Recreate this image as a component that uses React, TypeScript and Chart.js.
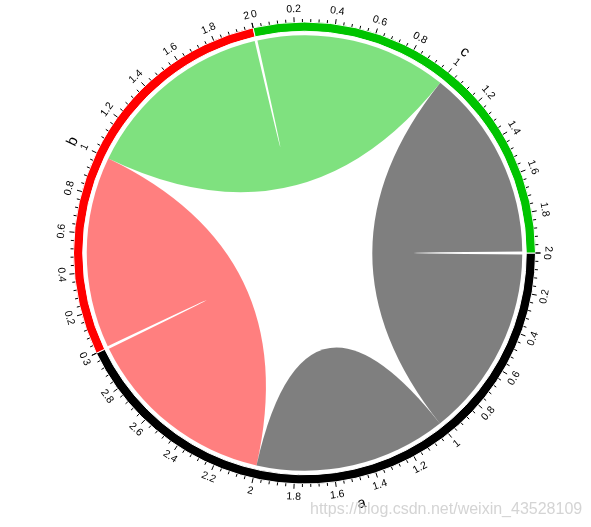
import React, { useEffect, useRef } from "react";
import { Chart, registerables } from "chart.js";

Chart.register(...registerables);

// Segments of the chord diagram
const segmentNames = ["a", "b", "c"];
const segmentSizes = [3, 2, 2];
const segmentColors = ["#000000", "#ff0000", "#00c400"];

// Links (ribbons): source segment + range, target segment + range
const linkSource = [2, 1, 0, 0];
const linkSourceFrom = [1, 1, 2, 1];
const linkSourceTo = [2, 2, 3, 2];
const linkTarget = [0, 2, 1, -1];
const linkTargetFrom = [0, 0, 0, 0];
const linkTargetTo = [1, 1, 1, 0];
const linkColors = [
  "rgba(0,0,0,0.5)",
  "rgba(0,196,0,0.5)",
  "rgba(255,0,0,0.5)",
  "rgba(0,0,0,0.5)",
];

const majorStep = 0.2;
const minorStep = 0.04;
const watermark = "https://blog.csdn.net/weixin_43528109";

const FONT = "'Liberation Sans', Arial, sans-serif";

const chordPlugin = {
  id: "chord",
  afterDatasetsDraw(chart: any) {
    const ctx: CanvasRenderingContext2D = chart.ctx;
    const meta = chart.getDatasetMeta(0);
    const arcs = meta.data as any[];
    if (!arcs.length) return;
    const cx = arcs[0].x;
    const cy = arcs[0].y;
    const outerR = arcs[0].outerRadius;
    const innerR = arcs[0].innerRadius;
    const ribbonR = innerR - 4;
    const pad = 0.0065;

    const angAt = (seg: number, p: number, usePad: boolean) => {
      const el = arcs[seg];
      const span = el.endAngle - el.startAngle;
      if (!usePad) return el.startAngle + (span * p) / segmentSizes[seg];
      return el.startAngle + pad + ((span - 2 * pad) * p) / segmentSizes[seg];
    };
    const pt = (a: number, r: number) => [cx + r * Math.cos(a), cy + r * Math.sin(a)];

    // ribbons
    for (let i = 0; i < linkSource.length; i++) {
      const s = linkSource[i];
      const a1 = angAt(s, linkSourceFrom[i], true);
      const a2 = angAt(s, linkSourceTo[i], true);
      ctx.save();
      ctx.beginPath();
      const p0 = pt(a1, ribbonR);
      ctx.moveTo(p0[0], p0[1]);
      ctx.arc(cx, cy, ribbonR, a1, a2);
      if (linkTarget[i] >= 0) {
        const t = linkTarget[i];
        const b1 = angAt(t, linkTargetFrom[i], true);
        const b2 = angAt(t, linkTargetTo[i], true);
        const q = pt(b1, ribbonR);
        ctx.quadraticCurveTo(cx, cy, q[0], q[1]);
        ctx.arc(cx, cy, ribbonR, b1, b2);
      }
      ctx.quadraticCurveTo(cx, cy, p0[0], p0[1]);
      ctx.closePath();
      ctx.fillStyle = linkColors[i];
      ctx.fill();
      ctx.restore();
    }

    // text helper
    const drawText = (
      text: string,
      a: number,
      r: number,
      orientAngle: number,
      align: CanvasTextAlign,
      font: string
    ) => {
      const upper = Math.sin(orientAngle) < 0;
      const rot = upper ? a + Math.PI / 2 : a - Math.PI / 2;
      const p = pt(a, r);
      ctx.save();
      ctx.translate(p[0], p[1]);
      ctx.rotate(rot);
      ctx.font = font;
      ctx.fillStyle = "#000";
      ctx.textAlign = align;
      ctx.textBaseline = "middle";
      ctx.fillText(text, 0, 0);
      ctx.restore();
    };

    // ticks and tick labels
    ctx.save();
    ctx.strokeStyle = "#000";
    ctx.lineWidth = 1;
    for (let s = 0; s < segmentSizes.length; s++) {
      const size = segmentSizes[s];
      const nMinor = Math.round(size / minorStep);
      const perMajor = Math.round(majorStep / minorStep);
      for (let k = 0; k <= nMinor; k++) {
        const v = k * minorStep;
        const a = angAt(s, v, false);
        const major = k % perMajor === 0;
        const len = major ? 5 : 3;
        const p1 = pt(a, outerR);
        const p2 = pt(a, outerR + len);
        ctx.beginPath();
        ctx.moveTo(p1[0], p1[1]);
        ctx.lineTo(p2[0], p2[1]);
        ctx.stroke();
      }
      const nMajor = Math.round(size / majorStep);
      for (let k = 0; k <= nMajor; k++) {
        const v = k * majorStep;
        const label = String(Number(v.toFixed(1)));
        const a = angAt(s, v, false);
        let orient = a;
        let align: CanvasTextAlign = "center";
        let aa = a;
        if (k === 0) {
          orient = a + 0.02;
          aa = a + 0.004;
          align = Math.sin(orient) < 0 ? "left" : "right";
        } else if (k === nMajor) {
          orient = a - 0.02;
          aa = a - 0.004;
          align = Math.sin(orient) < 0 ? "right" : "left";
        }
        drawText(label, aa, outerR + 13, orient, align, `10.5px ${FONT}`);
      }
      // segment name
      const mid = angAt(s, size / 2, false);
      drawText(segmentNames[s], mid, outerR + 26, mid, "center", `15px ${FONT}`);
    }
    ctx.restore();
  },
  afterDraw(chart: any) {
    const ctx: CanvasRenderingContext2D = chart.ctx;
    ctx.save();
    ctx.font = `16px ${FONT}`;
    ctx.fillStyle = "rgba(205,205,205,0.85)";
    ctx.textAlign = "left";
    ctx.textBaseline = "alphabetic";
    ctx.fillText(watermark, 310, 514);
    ctx.restore();
  },
};

export default function App() {
  const canvasRef = useRef<HTMLCanvasElement | null>(null);

  useEffect(() => {
    if (!canvasRef.current) return;
    const chart = new Chart(canvasRef.current, {
      type: "doughnut",
      data: {
        labels: segmentNames,
        datasets: [
          {
            data: segmentSizes,
            backgroundColor: segmentColors,
            borderColor: "#ffffff",
            borderWidth: 1,
            hoverBorderWidth: 1,
            hoverOffset: 0,
          } as any,
        ],
      },
      options: {
        responsive: false,
        animation: false,
        events: [],
        rotation: 90,
        circumference: 360,
        radius: 231,
        cutout: "96%",
        layout: { padding: { left: 30, right: 12, top: 0, bottom: 21 } },
        plugins: {
          legend: { display: false },
          tooltip: { enabled: false },
        },
      } as any,
      plugins: [chordPlugin],
    });
    return () => chart.destroy();
  }, []);

  return (
    <div
      style={{
        position: "fixed",
        left: 0,
        top: 0,
        width: 591,
        height: 527,
        background: "#ffffff",
      }}
    >
      <canvas
        ref={canvasRef}
        width={591}
        height={527}
        style={{ width: 591, height: 527, display: "block" }}
      />
    </div>
  );
}
